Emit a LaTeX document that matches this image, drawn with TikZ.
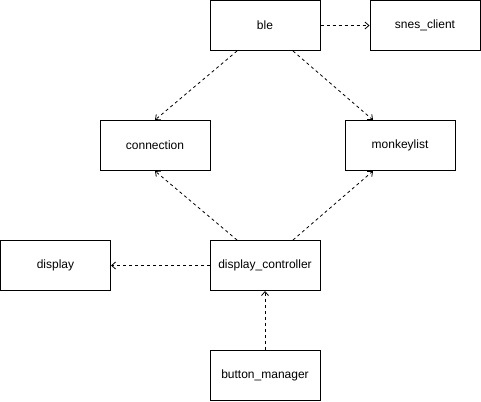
\documentclass[tikz,border=0pt]{standalone}
\usepackage{fontspec}
\setmainfont{Liberation Sans}
\usetikzlibrary{arrows.meta}
\begin{document}
\begin{tikzpicture}[x=1pt,y=-1pt,
  box/.style={draw,line width=1pt,minimum width=110pt,minimum height=50pt,inner sep=0pt,font=\fontsize{12}{14}\selectfont},
  dep/.style={draw,line width=0.8pt,dash pattern=on 3pt off 3pt,-{Straight Barb[length=4pt,width=7pt,line width=0.8pt]}}]
\useasboundingbox (0,0) rectangle (481,401);
\node[box] (ble) at (265,25.5) {ble};
\node[box] (snes) at (425,25.5) {snes\_client};
\node[box] (conn) at (155,145.5) {connection};
\node[box] (monk) at (400,145.5) {monkeylist};
\node[box] (disp) at (55.5,265.5) {display};
\node[box] (dc) at (265,265.5) {display\_controller};
\node[box] (bm) at (265,375.5) {button\_manager};
\draw[dep] (ble.east) -- (snes.west);
\draw[dep] ([xshift=-28pt]ble.south) -- (conn.north);
\draw[dep] ([xshift=28pt]ble.south) -- ([xshift=-27pt]monk.north);
\draw[dep] ([xshift=-28pt]dc.north) -- (conn.south);
\draw[dep] ([xshift=28pt]dc.north) -- ([xshift=-27pt]monk.south);
\draw[dep] (dc.west) -- (disp.east);
\draw[dep] (bm.north) -- (dc.south);
\end{tikzpicture}
\end{document}
